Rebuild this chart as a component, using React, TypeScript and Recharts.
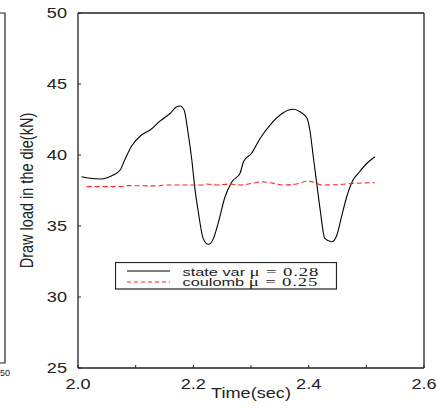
import React from "react";
import { LineChart, Line, XAxis, YAxis, ReferenceLine, Legend } from "recharts";

// state var curve (mu = 0.28)
const stateTime = [2.006, 2.021, 2.038, 2.061, 2.073, 2.081, 2.093, 2.110, 2.125, 2.142, 2.160, 2.171, 2.177, 2.184, 2.191, 2.197, 2.203, 2.209, 2.217, 2.226, 2.235, 2.243, 2.255, 2.267, 2.281, 2.287, 2.301, 2.316, 2.333, 2.356, 2.373, 2.385, 2.397, 2.402, 2.408, 2.414, 2.420, 2.428, 2.440, 2.449, 2.457, 2.466, 2.477, 2.486, 2.501, 2.515];
const stateLoad = [38.47, 38.36, 38.31, 38.59, 38.94, 39.65, 40.63, 41.41, 41.76, 42.39, 42.94, 43.40, 43.45, 43.17, 41.53, 39.77, 37.54, 35.89, 34.13, 33.71, 34.13, 35.19, 37.06, 38.12, 38.71, 39.53, 40.12, 41.18, 42.11, 42.98, 43.22, 43.05, 42.58, 41.76, 39.88, 38.0, 36.13, 34.13, 33.89, 34.37, 35.66, 37.06, 38.24, 38.71, 39.42, 39.88];

// coulomb curve (mu = 0.25)
const coulombTime = [2.015, 2.073, 2.087, 2.139, 2.148, 2.217, 2.223, 2.240, 2.264, 2.281, 2.301, 2.319, 2.333, 2.356, 2.379, 2.397, 2.408, 2.423, 2.449, 2.477, 2.515];
const coulombLoad = [37.77, 37.77, 37.84, 37.82, 37.89, 37.89, 37.96, 37.89, 37.96, 37.89, 38.0, 38.12, 38.05, 37.89, 37.96, 38.15, 38.10, 37.89, 37.91, 38.0, 38.05];

const seriesNames = ["state var", "coulomb"];
const muLabels = ["\u03bc = 0.28", "\u03bc = 0.25"];
const seriesColors = ["#000", "#ff2020"];

const xTicks = [2.0, 2.1, 2.2, 2.3, 2.4, 2.5, 2.6];
const xTickLabels = ["2.0", "", "2.2", "", "2.4", "", "2.6"];
const yTicks = [25, 30, 35, 40, 45, 50];

const stateData = stateTime.map((t, i) => ({ t, load: stateLoad[i] }));
const coulombData = coulombTime.map((t, i) => ({ t, load: coulombLoad[i] }));

const SX = 1.25; // the figure is stretched sideways
const sans = "'Liberation Sans', Arial, sans-serif";
const serif = "'Liberation Serif', 'Times New Roman', serif";
const ink = "#222";

function XTick(props: any) {
  const { x, y, payload } = props;
  const label = xTickLabels[xTicks.indexOf(payload.value)];
  if (!label) return null;
  return (
    <text transform={`translate(${x},${y}) scale(${SX},1)`} textAnchor="middle" dy="0.72em" fontSize={14.5} fontFamily={sans} fill={ink}>
      {label}
    </text>
  );
}

function YTick(props: any) {
  const { x, y, payload } = props;
  return (
    <text transform={`translate(${x},${y}) scale(${SX},1)`} textAnchor="end" dy="0.355em" fontSize={14.5} fontFamily={sans} fill={ink}>
      {payload.value}
    </text>
  );
}

function LegendBox() {
  return (
    <svg width={222} height={28} style={{ display: "block" }}>
      <rect x={0.5} y={0.5} width={221} height={26.5} fill="#fff" stroke={ink} strokeWidth={1.2} />
      {seriesNames.map((name, i) => {
        const ly = 9 + i * 11;
        const by = 13.8 + i * 10.2;
        return (
          <g key={name}>
            <line x1={12} x2={55} y1={ly} y2={ly} stroke={seriesColors[i]} strokeWidth={1} strokeDasharray={i === 1 ? "4 3" : undefined} />
            <text transform={`translate(67.5,${by}) scale(1.42,1)`} fill={ink}>
              <tspan fontFamily={sans} fontSize={11.5}>{name} </tspan>
              <tspan fontFamily={serif} fontSize={13.2} letterSpacing={0.6}>{muLabels[i]}</tspan>
            </text>
          </g>
        );
      })}
    </svg>
  );
}

export default function App() {
  return (
    <div style={{ position: "absolute", left: 0, top: 0, width: 437, height: 409, background: "#fff" }}>
      {/* right edge of the neighbouring figure */}
      <svg width={20} height={409} style={{ position: "absolute", left: 0, top: 0 }}>
        <polyline points="0,13 5,13 5,363 0,363" fill="none" stroke={ink} strokeWidth={1.2} />
        <text x={0} y={376} fontSize={9} fontFamily={sans} fill={ink}>50</text>
      </svg>
      <LineChart width={437} height={409} margin={{ top: 13, right: 13, bottom: 11, left: 18 }} style={{ position: "absolute", left: 0, top: 0 }}>
        <XAxis
          dataKey="t"
          type="number"
          domain={[2.0, 2.6]}
          ticks={xTicks}
          allowDuplicatedCategory={false}
          height={30}
          stroke={ink}
          tickSize={-3}
          tickMargin={14}
          tick={<XTick />}
          axisLine={{ stroke: ink, strokeWidth: 1.3 }}
          tickLine={{ stroke: ink }}
          label={{
            content: (p: any) => {
              const vb = p.viewBox;
              return (
                <text transform={`translate(${vb.x + vb.width / 2},${vb.y + 30}) scale(${SX},1)`} textAnchor="middle" fontSize={14.5} fontFamily={sans} fill={ink}>
                  Time(sec)
                </text>
              );
            },
          }}
        />
        <YAxis
          type="number"
          domain={[25, 50]}
          ticks={yTicks}
          width={60}
          stroke={ink}
          tickSize={-3}
          tickMargin={14}
          tick={<YTick />}
          axisLine={{ stroke: ink, strokeWidth: 1.3 }}
          tickLine={{ stroke: ink }}
          label={{
            content: (p: any) => {
              const vb = p.viewBox;
              return (
                <text transform={`translate(${vb.x + 15},${vb.y + vb.height / 2}) scale(${SX},1) rotate(-90)`} textAnchor="middle" fontSize={14.5} fontFamily={sans} fill={ink}>
                  Draw load in the die(kN)
                </text>
              );
            },
          }}
        />
        <ReferenceLine y={50} stroke={ink} strokeWidth={1.3} />
        <ReferenceLine x={2.6} stroke={ink} strokeWidth={1.3} />
        <Line data={stateData} dataKey="load" name={seriesNames[0]} type="monotone" stroke={seriesColors[0]} strokeWidth={1.1} dot={false} isAnimationActive={false} />
        <Line data={coulombData} dataKey="load" name={seriesNames[1]} type="monotone" stroke={seriesColors[1]} strokeWidth={1.1} strokeDasharray="5 3" dot={false} isAnimationActive={false} />
        <Legend
          layout="vertical"
          align="center"
          verticalAlign="middle"
          content={<LegendBox />}
          wrapperStyle={{ left: 115, top: 262, width: 222, height: 28 }}
        />
      </LineChart>
    </div>
  );
}
